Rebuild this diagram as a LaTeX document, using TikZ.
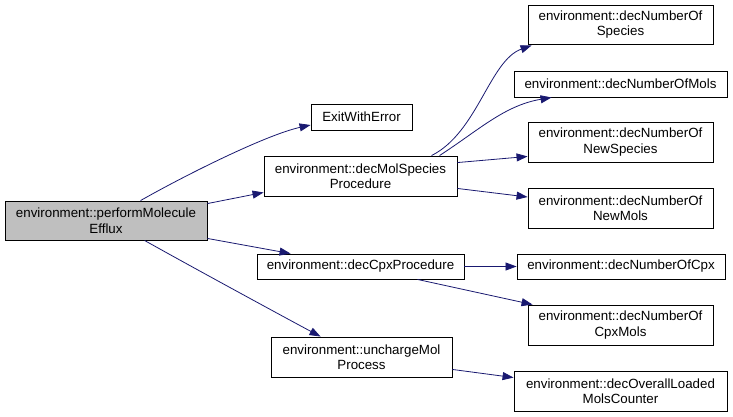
\documentclass[tikz,border=0pt]{standalone}
\usepackage{fontspec}
\setmainfont{Liberation Sans}
\usetikzlibrary{arrows.meta,calc}
\definecolor{edgeblue}{HTML}{191970}
\definecolor{mainfill}{HTML}{BFBFBF}
\begin{document}
\begin{tikzpicture}[x=1pt,y=-1pt,
  fnbox/.style={draw=black, line width=0.9pt, fill=white, align=center, inner sep=0pt,
    font=\fontsize{13.33}{15.5}\selectfont},
  callarrow/.style={draw=edgeblue, line width=0.8pt, -{Triangle[length=11pt,width=8pt]}}]
\useasboundingbox (0,0) rectangle (733,416);

\node[fnbox, fill=mainfill, minimum width=202pt, minimum height=39pt] (main) at (106,220.5) {environment::performMolecule\\Efflux};
\node[fnbox, minimum width=101pt, minimum height=26pt] (exit) at (361.5,117) {ExitWithError};
\node[fnbox, minimum width=193pt, minimum height=40pt] (molspec) at (360.5,176) {environment::decMolSpecies\\Procedure};
\node[fnbox, minimum width=207pt, minimum height=25pt] (cpxproc) at (360.5,266.5) {environment::decCpxProcedure};
\node[fnbox, minimum width=181pt, minimum height=40pt] (uncharge) at (361.5,357) {environment::unchargeMol\\Process};
\node[fnbox, minimum width=185pt, minimum height=39pt] (species) at (620.5,24.5) {environment::decNumberOf\\Species};
\node[fnbox, minimum width=213pt, minimum height=26pt] (mols) at (620.5,84) {environment::decNumberOfMols};
\node[fnbox, minimum width=185pt, minimum height=40pt] (newspecies) at (620.5,142) {environment::decNumberOf\\NewSpecies};
\node[fnbox, minimum width=185pt, minimum height=40pt] (newmols) at (620.5,208) {environment::decNumberOf\\NewMols};
\node[fnbox, minimum width=208pt, minimum height=25pt] (cpx) at (621,266.5) {environment::decNumberOfCpx};
\node[fnbox, minimum width=185pt, minimum height=40pt] (cpxmols) at (620.5,325) {environment::decNumberOf\\CpxMols};
\node[fnbox, minimum width=213pt, minimum height=40pt] (overall) at (620.5,391) {environment::decOverallLoaded\\MolsCounter};

% main calls
\draw[callarrow] ($(main.north west)+(136,0)$) .. controls ($(main.north west)+(180,-25)$) and ($(exit.west)+(-45,18)$) .. ($(exit.west)+(0,8)$);
\draw[callarrow] ($(main.north east)+(0,3)$) -- ($(molspec.south west)+(0,-4)$);
\draw[callarrow] ($(main.south east)+(0,-2)$) -- ($(cpxproc.north west)+(34,0)$);
\draw[callarrow] ($(main.south west)+(140,0)$) .. controls ($(main.south west)+(190,28)$) and ($(uncharge.north west)+(20,-16)$) .. ($(uncharge.north west)+(50,0)$);

% decMolSpeciesProcedure calls
\draw[callarrow] ($(molspec.north west)+(168,0)$) .. controls ($(molspec.north west)+(214,-23)$) and ($(species.south west)+(-38,16)$) .. ($(species.south west)+(4,1)$);
\draw[callarrow] ($(molspec.north west)+(176,0)$) .. controls ($(molspec.north west)+(216,-26)$) and ($(mols.south west)+(-9,8)$) .. ($(mols.south west)+(38,0)$);
\draw[callarrow] ($(molspec.north east)+(0,7)$) -- ($(newspecies.south west)+(0,-6)$);
\draw[callarrow] ($(molspec.south east)+(0,-8)$) -- ($(newmols.west)+(0,-11)$);

% decCpxProcedure calls
\draw[callarrow] (cpxproc.east) -- (cpx.west);
\draw[callarrow] ($(cpxproc.south west)+(161,0)$) -- ($(cpxmols.north west)+(5,0)$);

% unchargeMolProcess call
\draw[callarrow] ($(uncharge.south east)+(0,-8)$) -- ($(overall.north west)+(0,7)$);
\end{tikzpicture}
\end{document}
